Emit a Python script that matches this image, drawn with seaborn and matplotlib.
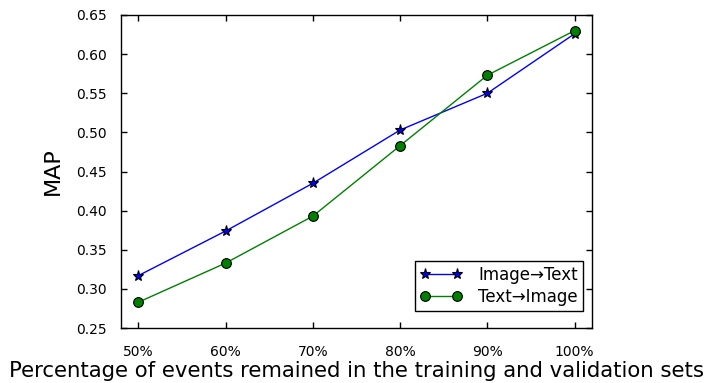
import matplotlib
matplotlib.use("Agg")
import matplotlib.pyplot as plt
import seaborn as sns
import pandas as pd

categories = ["50%", "60%", "70%", "80%", "90%", "100%"]
image_to_text = [0.317, 0.374, 0.435, 0.503, 0.550, 0.626]
text_to_image = [0.283, 0.333, 0.393, 0.483, 0.573, 0.630]
series_names = ["Image\u2192Text", "Text\u2192Image"]

sns.set_style("ticks")
plt.rcParams["font.family"] = ["DejaVu Sans"]
plt.rcParams["xtick.direction"] = "in"
plt.rcParams["ytick.direction"] = "in"

fig = plt.figure(figsize=(7.07, 3.83), dpi=100)
ax = fig.add_axes([121/707, 1-328/383, (592-121)/707, (328-15)/383])

idx = list(range(len(categories)))
df1 = pd.DataFrame({"x": idx, "y": image_to_text})
df2 = pd.DataFrame({"x": idx, "y": text_to_image})

sns.lineplot(data=df1, x="x", y="y", ax=ax, color="blue", marker="*",
             markersize=8, markeredgecolor="black", markerfacecolor="blue",
             markeredgewidth=0.8, linewidth=1.0, label=series_names[0])
sns.lineplot(data=df2, x="x", y="y", ax=ax, color="green", marker="o",
             markersize=7, markeredgecolor="black", markerfacecolor="green",
             markeredgewidth=0.8, linewidth=1.0, label=series_names[1])

yt = [0.25, 0.30, 0.35, 0.40, 0.45, 0.50, 0.55, 0.60, 0.65]
ax.set_xlim(-0.2, 5.2)
ax.set_ylim(0.25, 0.65)
ax.set_xticks(idx)
ax.set_xticklabels(categories)
ax.set_yticks(yt)
ax.set_yticklabels([f"{v:.2f}" for v in yt])
ax.tick_params(direction="in", top=True, right=True, length=4, width=1,
               labelsize=10, colors="black")
ax.tick_params(axis="x", pad=12)
ax.tick_params(axis="y", pad=10)
for s in ax.spines.values():
    s.set_visible(True)
    s.set_color("black")
    s.set_linewidth(1.0)

ax.set_xlabel("Percentage of events remained in the training and validation sets",
              fontsize=15.3, labelpad=2, color="black")
ax.set_ylabel("MAP", fontsize=16, labelpad=10, color="black")

leg = ax.legend(loc="lower right", bbox_to_anchor=(0.981, 0.054), numpoints=2,
                fontsize=12, frameon=True, fancybox=False, edgecolor="black",
                framealpha=1, borderaxespad=0, handlelength=2.5,
                labelspacing=0.25, borderpad=0.3, handletextpad=1.0)
leg.get_frame().set_linewidth(1.0)
for t in leg.get_texts():
    t.set_color("black")

fig.savefig("out.png", dpi=100)
